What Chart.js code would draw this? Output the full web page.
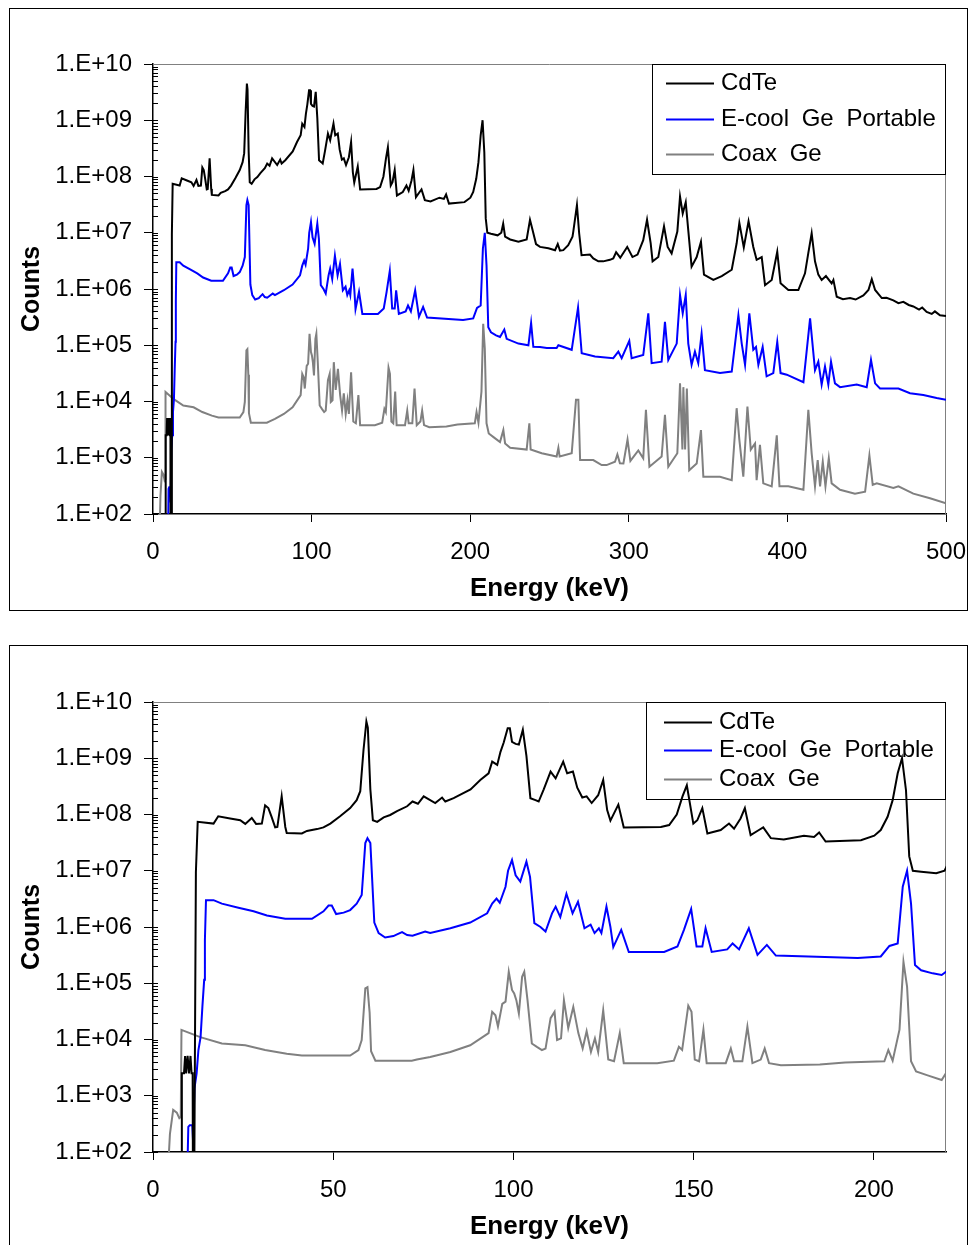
<!DOCTYPE html>
<html>
<head>
<meta charset="utf-8">
<title>CdTe vs Ge spectra</title>
<script src="https://cdn.jsdelivr.net/npm/chart.js@4.4.1/dist/chart.umd.min.js"></script>
<style>
  body { margin: 0; background: #fff; width: 969px; height: 1245px; overflow: hidden; position: relative; }
  .frame { position: absolute; left: 9px; width: 959px; border: 1px solid #000; box-sizing: border-box; }
  #frameTop { top: 8px; height: 603px; }
  #frameBottom { top: 645px; height: 700px; }
  canvas { position: absolute; left: 0; }
  #chartTop { top: 0; }
  #chartBottom { top: 638px; }
</style>
</head>
<body>
<div class="frame" id="frameTop"></div>
<div class="frame" id="frameBottom"></div>
<canvas id="chartTop" width="969" height="625"></canvas>
<canvas id="chartBottom" width="969" height="625"></canvas>

<script>
// Series names
const seriesLabels = ['CdTe', 'E-cool Ge Portable', 'Coax Ge'];

// Axis ticks
const yTickValues = [1e2, 1e3, 1e4, 1e5, 1e6, 1e7, 1e8, 1e9, 1e10];
const yTickLabels = ['1.E+02', '1.E+03', '1.E+04', '1.E+05', '1.E+06', '1.E+07', '1.E+08', '1.E+09', '1.E+10'];
const topXTicks = [0, 100, 200, 300, 400, 500];
const bottomXTicks = [0, 50, 100, 150, 200];

// CdTe spectrum (energy keV / counts)
const energyCdTe = [0, 7.9, 8.0, 8.6, 8.9, 9.2, 9.6, 10.0, 10.4, 10.7, 11.0, 11.1, 11.4, 11.9, 12.4, 16.8, 18.1, 21.4, 24.2, 25.6,
  27.4, 28.6, 30.2, 31.1, 32.0, 32.9, 33.9, 34.5, 35.7, 36.7, 37.1, 41.3, 42.7, 45.5, 47.3, 49.2, 51.9, 54.7, 56.5, 57.5,
  58.4, 59.2, 59.6, 60.3, 61.0, 62.2, 64.0, 65.8, 67.7, 70.5, 72.0, 73.5, 75.1, 78.3, 80.2, 81.1, 83.4, 88.1, 90.8, 93.1,
  94.1, 95.5, 96.4, 97.3, 98.4, 99.0, 99.6, 100.6, 101.5, 102.6, 103.6, 104.7, 106.1, 107.0, 108.4, 110.3, 111.7, 113.8, 114.9, 116.5,
  117.7, 119.1, 120.3, 121.7, 123.5, 124.9, 126.0, 126.9, 129.1, 130.6, 140.9, 143.2, 145.3, 146.9, 148.1, 149.9, 151.0, 152.4, 153.8, 157.5,
  159.8, 161.2, 163.0, 164.2, 165.8, 168.1, 169.3, 171.4, 175.0, 180.6, 183.4, 184.8, 186.6, 196.4, 200.1, 201.9, 203.8, 205.2, 206.6, 207.8,
  208.9, 209.8, 210.8, 213.1, 217.3, 219.6, 220.8, 222.0, 225.2, 230.4, 235.6, 237.7, 239.4, 241.5, 244.0, 249.3, 253.5, 255.2, 256.6, 258.7,
  261.8, 264.5, 265.0, 267.3, 268.7, 270.2, 275.5, 277.6, 280.8, 283.9, 288.1, 290.2, 292.0, 294.6, 299.0, 302.3, 305.5, 309.1, 311.5, 313.8,
  315.0, 318.6, 322.2, 324.5, 327.0, 330.6, 332.3, 334.0, 335.9, 337.5, 339.6, 342.8, 345.5, 347.4, 353.3, 358.6, 364.9, 368.0, 369.7, 372.5,
  375.5, 378.5, 380.6, 383.8, 385.9, 390.1, 393.6, 395.7, 400.6, 406.9, 411.1, 413.2, 415.3, 417.4, 419.5, 421.6, 424.3, 427.9, 429.0, 431.1,
  435.0, 439.5, 443.0, 447.9, 451.1, 453.2, 455.3, 459.5, 462.5, 466.8, 470.0, 473.1, 476.5, 479.4, 483.0, 485.0, 487.8, 491.0, 493.0, 496.2,
  500];
const countsCdTe = [10, 10, 2.5e3, 2.5e3, 5.1e3, 2.5e3, 5.1e3, 2.5e3, 5.1e3, 2.5e3, 2.5e3, 10, 10, 9.5e6, 7.4e7, 6.9e7, 9.3e7, 8.5e7, 7.9e7, 6.8e7,
  8.7e7, 6.8e7, 6.9e7, 1.45e8, 1.3e8, 9.1e7, 5.9e7, 6.0e7, 2.1e8, 6.0e7, 4.7e7, 4.6e7, 5.1e7, 5.5e7, 5.9e7, 6.9e7, 9.3e7, 1.3e8, 1.8e8, 2.6e8,
  1.4e9, 4.5e9, 3.5e9, 2.8e8, 7.9e7, 7.4e7, 8.9e7, 9.8e7, 1.15e8, 1.4e8, 1.7e8, 1.55e8, 2.1e8, 1.6e8, 2.0e8, 1.7e8, 1.95e8, 2.8e8, 4.1e8, 5.4e8,
  8.7e8, 7.6e8, 1.3e9, 1.9e9, 3.4e9, 3.4e9, 1.95e9, 1.8e9, 1.75e9, 3.2e9, 1.1e9, 1.95e8, 1.8e8, 1.7e8, 2.8e8, 5.8e8, 4.4e8, 8.7e8, 5.4e8, 5.8e8,
  3.0e8, 2.0e8, 2.1e8, 1.6e8, 2.2e8, 4.1e8, 1.2e8, 7.8e7, 1.5e8, 5.9e7, 6.0e7, 6.5e7, 1.0e8, 2.1e8, 3.3e8, 6.9e7, 7.9e7, 1.3e8, 4.6e7, 5.3e7,
  6.9e7, 5.6e7, 8.5e7, 1.3e8, 4.3e7, 5.3e7, 5.9e7, 3.8e7, 3.6e7, 4.2e7, 4.0e7, 4.8e7, 3.3e7, 3.5e7, 4.2e7, 5.3e7, 9.1e7, 1.8e8, 5.4e8, 1.0e9,
  2.7e8, 1.8e7, 1.0e7, 9.6e6, 9.0e6, 1.0e7, 1.45e7, 8.5e6, 7.6e6, 6.9e6, 7.6e6, 1.7e7, 1.1e7, 6.3e6, 5.6e6, 5.3e6, 4.9e6, 6.3e6, 4.8e6, 4.9e6,
  6.0e6, 8.5e6, 1.05e7, 3.1e7, 9.8e6, 4.0e6, 4.1e6, 3.5e6, 3.1e6, 3.1e6, 3.3e6, 3.5e6, 4.5e6, 3.6e6, 5.6e6, 3.7e6, 4.1e6, 7.4e6, 1.7e7, 6.5e6,
  3.1e6, 3.7e6, 1.3e7, 5.6e6, 4.3e6, 1.05e7, 4.4e7, 2.2e7, 3.5e7, 1.1e7, 2.5e6, 3.7e6, 6.9e6, 1.8e6, 1.45e6, 1.7e6, 2.2e6, 6.5e6, 1.5e7, 5.5e6,
  1.6e7, 5.6e6, 3.3e6, 3.7e6, 1.17e6, 1.45e6, 4.6e6, 1.26e6, 9.6e5, 9.6e5, 1.9e6, 4.4e6, 9.8e6, 3.1e6, 1.8e6, 1.45e6, 1.7e6, 1.26e6, 1.45e6, 7.3e5,
  6.6e5, 6.9e5, 6.5e5, 7.7e5, 9.6e5, 1.5e6, 9.6e5, 6.9e5, 7.0e5, 6.3e5, 5.6e5, 5.9e5, 5.2e5, 4.9e5, 4.3e5, 4.7e5, 3.9e5, 3.6e5, 4.0e5, 3.4e5,
  3.3e5];

// E-cool Ge Portable spectrum
const energyEcool = [0, 9.3, 9.8, 10.2, 10.9, 11.1, 11.5, 12.1, 12.6, 13.2, 13.7, 14.2, 14.4, 14.7, 16.8, 19.1, 23.7, 27.9, 31.6, 36.7,
  44.1, 47.3, 48.7, 49.6, 50.8, 52.9, 54.7, 56.5, 57.9, 58.9, 59.5, 60.3, 61.4, 62.6, 64.4, 66.7, 67.7, 69.1, 70.5, 72.0,
  75.5, 76.9, 82.5, 88.0, 92.7, 94.1, 95.3, 96.2, 97.8, 98.5, 99.6, 100.6, 101.9, 103.6, 104.6, 105.8, 107.5, 108.9, 110.7, 111.7,
  113.0, 114.7, 116.4, 117.9, 119.7, 121.4, 122.5, 123.7, 124.4, 125.8, 126.9, 127.7, 129.9, 132.0, 141.8, 145.5, 147.3, 149.3, 150.8, 152.4,
  153.3, 155.0, 159.3, 160.8, 162.6, 165.3, 167.7, 170.3, 172.8, 195.5, 201.9, 204.3, 206.6, 208.0, 209.2, 210.3, 211.4, 213.1, 216.3, 218.8,
  221.5, 223.0, 230.4, 236.7, 238.4, 239.8, 244.0, 248.3, 254.5, 255.6, 264.0, 268.0, 270.3, 278.7, 290.2, 293.4, 295.5, 300.3, 301.8, 309.1,
  312.3, 314.4, 320.7, 322.8, 324.9, 330.2, 332.3, 334.0, 335.9, 337.5, 339.6, 341.7, 343.8, 345.9, 348.0, 357.5, 364.9, 367.0, 369.1, 371.2,
  373.3, 376.0, 378.5, 380.2, 381.7, 384.4, 386.9, 391.1, 393.6, 395.7, 399.6, 410.1, 414.3, 417.4, 419.5, 421.6, 423.7, 425.8, 427.5, 430.0,
  433.2, 443.7, 450.0, 452.7, 455.3, 458.4, 470.0, 477.3, 485.7, 494.1, 500];
const countsEcool = [10, 10, 2.8e2, 3.0e2, 3.0e2, 1.6e2, 1.35e3, 2.5e3, 6.5e3, 1.1e4, 3.8e4, 1.15e5, 5.9e5, 3.0e6, 3.0e6, 2.6e6, 2.2e6, 1.9e6, 1.6e6, 1.4e6,
  1.4e6, 1.9e6, 2.4e6, 2.4e6, 1.7e6, 1.8e6, 2.0e6, 2.6e6, 3.7e6, 3.1e7, 3.8e7, 3.1e7, 1.2e6, 7.8e5, 6.5e5, 6.9e5, 7.4e5, 8.1e5, 7.2e5, 7.0e5,
  8.3e5, 7.8e5, 9.5e5, 1.2e6, 1.75e6, 2.6e6, 3.2e6, 2.7e6, 5.2e6, 1.0e7, 1.55e7, 8.3e6, 6.4e6, 1.45e7, 7.8e6, 1.17e6, 1.0e6, 8.3e5, 1.75e6, 2.3e6,
  1.5e6, 3.9e6, 1.75e6, 2.8e6, 9.5e5, 1.1e6, 7.8e5, 9.5e5, 7.8e5, 2.3e6, 1.0e6, 4.4e5, 8.9e5, 3.6e5, 3.6e5, 4.5e5, 8.9e5, 2.1e6, 4.5e5, 4.5e5,
  9.5e5, 3.6e5, 4.0e5, 5.1e5, 4.0e5, 9.5e5, 3.2e5, 4.8e5, 3.1e5, 2.8e5, 3.0e5, 4.6e5, 5.1e5, 5.2e6, 1.0e7, 2.6e6, 2.1e5, 1.7e5, 1.5e5, 1.4e5,
  1.9e5, 1.3e5, 1.07e5, 1.0e5, 2.5e5, 9.4e4, 9.3e4, 8.9e4, 8.9e4, 1.0e5, 8.3e4, 4.7e5, 7.2e4, 6.3e4, 5.9e4, 7.7e4, 5.9e4, 1.2e5, 5.9e4, 6.7e4,
  3.7e5, 4.8e4, 5.1e4, 2.6e5, 5.5e4, 1.07e5, 7.8e5, 3.7e5, 7.8e5, 1.07e5, 4.5e4, 7.7e4, 4.8e4, 1.6e5, 3.6e4, 3.2e4, 3.4e4, 1.07e5, 3.4e5, 1.07e5,
  4.5e4, 3.7e5, 8.3e4, 9.3e4, 4.5e4, 9.3e4, 2.8e4, 3.2e4, 1.15e5, 3.2e4, 3.0e4, 2.2e4, 3.0e5, 3.6e4, 5.1e4, 2.0e4, 4.2e4, 2.0e4, 5.1e4, 2.1e4,
  1.8e4, 2.0e4, 1.8e4, 5.5e4, 2.1e4, 1.7e4, 1.7e4, 1.4e4, 1.3e4, 1.15e4, 1.07e4];

// Coax Ge spectrum
const energyCoax = [0, 3.6, 4.7, 5.6, 6.6, 7.3, 7.7, 7.9, 13.1, 19.1, 25.6, 31.1, 37.1, 41.3, 54.7, 57.0, 57.9, 58.9, 59.5, 60.1,
  60.5, 61.7, 71.8, 73.2, 76.9, 82.5, 88.0, 93.1, 94.1, 95.0, 95.7, 96.9, 97.8, 98.7, 99.6, 100.2, 100.8, 101.5, 102.4, 103.0,
  103.9, 105.1, 106.5, 107.9, 108.9, 110.3, 111.4, 112.1, 113.2, 114.0, 115.2, 116.6, 118.0, 119.2, 120.3, 121.5, 122.6, 123.5, 124.9, 126.3,
  127.9, 129.5, 130.6, 139.9, 144.5, 145.9, 146.8, 148.5, 149.4, 150.3, 151.5, 152.7, 153.6, 158.9, 160.3, 161.2, 163.5, 164.9, 166.3, 168.6,
  169.7, 170.9, 174.2, 185.0, 192.0, 202.9, 204.0, 205.2, 207.1, 208.2, 209.2, 210.3, 211.7, 214.9, 218.8, 220.9, 222.0, 225.2, 235.6, 237.3,
  238.1, 245.1, 254.5, 255.6, 256.4, 264.0, 266.7, 268.2, 269.3, 277.6, 282.9, 286.0, 291.3, 292.8, 294.4, 296.6, 299.2, 301.0, 306.0, 309.1,
  310.8, 313.0, 320.7, 322.8, 324.9, 330.6, 332.3, 333.8, 334.4, 335.5, 336.6, 338.1, 342.8, 345.5, 347.0, 357.5, 364.9, 368.0, 369.7, 372.2,
  374.8, 376.9, 379.6, 380.6, 382.7, 384.8, 390.1, 393.3, 395.0, 400.6, 410.1, 413.2, 415.3, 417.4, 419.1, 420.6, 422.3, 424.0, 426.1, 427.9,
  433.2, 442.6, 449.0, 451.7, 453.8, 456.3, 466.8, 470.0, 479.4, 489.9, 500];
const countsCoax = [10, 10, 2.1e2, 5.6e2, 5.0e2, 4.0e2, 4.2e2, 1.48e4, 1.1e4, 8.5e3, 7.9e3, 6.5e3, 5.6e3, 5.2e3, 5.2e3, 6.5e3, 9.8e3, 8.1e4, 8.5e4, 3.0e4,
  6.2e3, 4.2e3, 4.2e3, 4.4e3, 4.9e3, 6.0e3, 7.9e3, 1.3e4, 3.1e4, 2.7e4, 1.7e4, 4.3e4, 4.7e4, 1.6e5, 7.6e4, 6.6e4, 5.0e4, 2.9e4, 1.3e5, 1.6e5,
  5.0e4, 8.5e3, 7.4e3, 6.5e3, 6.9e3, 2.4e4, 3.1e4, 9.8e3, 1.05e4, 5.0e4, 1.6e4, 3.8e4, 1.3e4, 6.9e3, 1.4e4, 6.0e3, 1.05e4, 6.0e3, 3.3e4, 4.4e3,
  4.1e3, 1.3e4, 3.8e3, 3.8e3, 4.2e3, 7.4e3, 6.5e3, 4.0e4, 3.1e4, 4.4e3, 4.1e3, 1.5e4, 3.8e3, 3.8e3, 6.9e3, 4.1e3, 4.1e3, 1.7e4, 3.8e3, 4.4e3,
  6.9e3, 3.8e3, 3.5e3, 3.6e3, 3.9e3, 4.1e3, 6.5e3, 4.2e3, 1.5e4, 2.4e5, 8.7e4, 4.1e3, 2.7e3, 2.3e3, 1.9e3, 3.1e3, 1.8e3, 1.5e3, 1.4e3, 4.1e3,
  1.4e3, 1.2e3, 1.05e3, 1.5e3, 1.05e3, 1.2e3, 1.07e4, 1.07e4, 9.1e2, 9.1e2, 7.4e2, 7.4e2, 8.5e2, 1.15e3, 8.0e2, 7.9e2, 2.1e3, 8.8e2, 1.35e3, 9.8e2,
  7.1e3, 6.9e2, 1.05e3, 5.8e3, 6.9e2, 1.2e3, 2.1e4, 1.4e3, 1.8e4, 1.4e3, 1.7e4, 6.0e2, 7.9e2, 3.1e3, 4.6e2, 4.6e2, 4.0e2, 7.6e3, 2.1e3, 4.6e2,
  8.1e3, 1.4e3, 1.8e3, 4.0e2, 1.7e3, 3.5e2, 3.1e2, 2.5e3, 3.1e2, 3.1e2, 2.7e2, 7.1e3, 1.2e3, 3.1e2, 9.1e2, 3.1e2, 8.5e2, 3.1e2, 9.8e2, 3.5e2,
  2.7e2, 2.3e2, 2.5e2, 1.1e3, 3.3e2, 3.5e2, 2.9e2, 3.1e2, 2.3e2, 1.9e2, 1.55e2];

Chart.defaults.font.family = "'Liberation Sans', Arial, sans-serif";
Chart.defaults.color = '#000';

function buildPoints(energy, counts) {
  return energy.map((e, i) => ({ x: e, y: counts[i] }));
}

// Gray plot frame (top/right) and small inside ticks on the log axis
const axisDecor = {
  id: 'axisDecor',
  beforeDatasetsDraw(chart) {
    const { ctx, chartArea: a } = chart;
    const y = chart.scales.y;
    ctx.save();
    ctx.strokeStyle = '#808080';
    ctx.lineWidth = 1;
    ctx.beginPath();
    ctx.moveTo(a.left, a.top + 0.5);
    ctx.lineTo(a.right - 0.5, a.top + 0.5);
    ctx.lineTo(a.right - 0.5, a.bottom);
    ctx.stroke();

    ctx.strokeStyle = '#000';
    ctx.beginPath();
    for (let e = 2; e < 10; e++) {
      for (let m = 1; m < 10; m++) {
        const py = Math.round(y.getPixelForValue(m * Math.pow(10, e))) + 0.5;
        ctx.moveTo(a.left, py);
        ctx.lineTo(a.left + 5, py);
      }
    }
    ctx.stroke();
    ctx.restore();
  }
};

// Boxed legend in the top right corner, drawn under the lines
const boxLegend = {
  id: 'boxLegend',
  beforeDatasetsDraw(chart, args, opts) {
    const { ctx, chartArea: a } = chart;
    const x0 = a.right - opts.width;
    const y0 = a.top;
    ctx.save();
    ctx.strokeStyle = '#000';
    ctx.lineWidth = 1;
    ctx.strokeRect(x0 + 0.5, y0 + 0.5, opts.width - 1, opts.height);
    ctx.font = "24px 'Liberation Sans', Arial, sans-serif";
    ctx.textBaseline = 'middle';
    ctx.wordSpacing = '6px';
    chart.data.datasets.forEach((ds, i) => {
      const ry = Math.round(y0 + opts.firstRow + i * opts.rowGap) + 0.5;
      ctx.strokeStyle = ds.borderColor;
      ctx.lineWidth = 2;
      ctx.beginPath();
      ctx.moveTo(x0 + opts.lineStart, ry);
      ctx.lineTo(x0 + opts.lineStart + 48, ry);
      ctx.stroke();
      ctx.fillStyle = '#000';
      ctx.fillText(ds.label, x0 + opts.textStart, ry);
    });
    ctx.restore();
  }
};

function makeChart(canvasId, xMax, xTicks, legendBox) {
  const ctx = document.getElementById(canvasId).getContext('2d');
  return new Chart(ctx, {
    type: 'line',
    data: {
      datasets: [
        { label: seriesLabels[0], data: buildPoints(energyCdTe, countsCdTe), borderColor: '#000000' },
        { label: seriesLabels[1], data: buildPoints(energyEcool, countsEcool), borderColor: '#0000ff' },
        { label: seriesLabels[2], data: buildPoints(energyCoax, countsCoax), borderColor: '#808080' }
      ]
    },
    options: {
      responsive: false,
      animation: false,
      events: [],
      devicePixelRatio: 1,
      layout: { padding: { left: 10, top: 64, right: 23, bottom: 21 } },
      elements: {
        point: { radius: 0 },
        line: { borderWidth: 2, tension: 0 }
      },
      plugins: {
        legend: { display: false },
        tooltip: { enabled: false },
        boxLegend: legendBox
      },
      scales: {
        x: {
          type: 'linear',
          min: 0,
          max: xMax,
          afterBuildTicks: axis => { axis.ticks = xTicks.map(v => ({ value: v })); },
          afterFit: axis => {
            axis.height = 90;
            // keep the plot edge fixed, the last label may hang over
            axis.paddingLeft = 0;
            axis.paddingRight = 0;
          },
          grid: { drawOnChartArea: false, tickLength: 8, color: '#000' },
          border: { color: '#000', width: 1.5 },
          ticks: { font: { size: 24 }, padding: 16, maxRotation: 0, autoSkip: false, callback: v => String(v) },
          title: { display: true, text: 'Energy (keV)', font: { size: 26, weight: 'bold' }, padding: { top: 5, bottom: 0 } }
        },
        y: {
          type: 'logarithmic',
          min: 1e2,
          max: 1e10,
          afterBuildTicks: axis => { axis.ticks = yTickValues.map(v => ({ value: v })); },
          afterFit: axis => {
            axis.width = 143;
            axis.paddingTop = 0;
            axis.paddingBottom = 0;
          },
          grid: { drawOnChartArea: false, tickLength: 9, color: '#000' },
          border: { color: '#000', width: 1.5 },
          ticks: { font: { size: 24 }, padding: 12, autoSkip: false, callback: v => yTickLabels[yTickValues.indexOf(v)] },
          title: { display: true, text: 'Counts', font: { size: 25, weight: 'bold' }, padding: { top: 7, bottom: 0 } }
        }
      }
    },
    plugins: [axisDecor, boxLegend]
  });
}

// Full range 0-500 keV
makeChart('chartTop', 500, topXTicks, { width: 294, height: 110, firstRow: 19, rowGap: 35.5, lineStart: 14, textStart: 69 });
// Zoom on 0-220 keV
makeChart('chartBottom', 220, bottomXTicks, { width: 300, height: 97, firstRow: 19.5, rowGap: 28.7, lineStart: 18, textStart: 73 });
</script>
</body>
</html>
